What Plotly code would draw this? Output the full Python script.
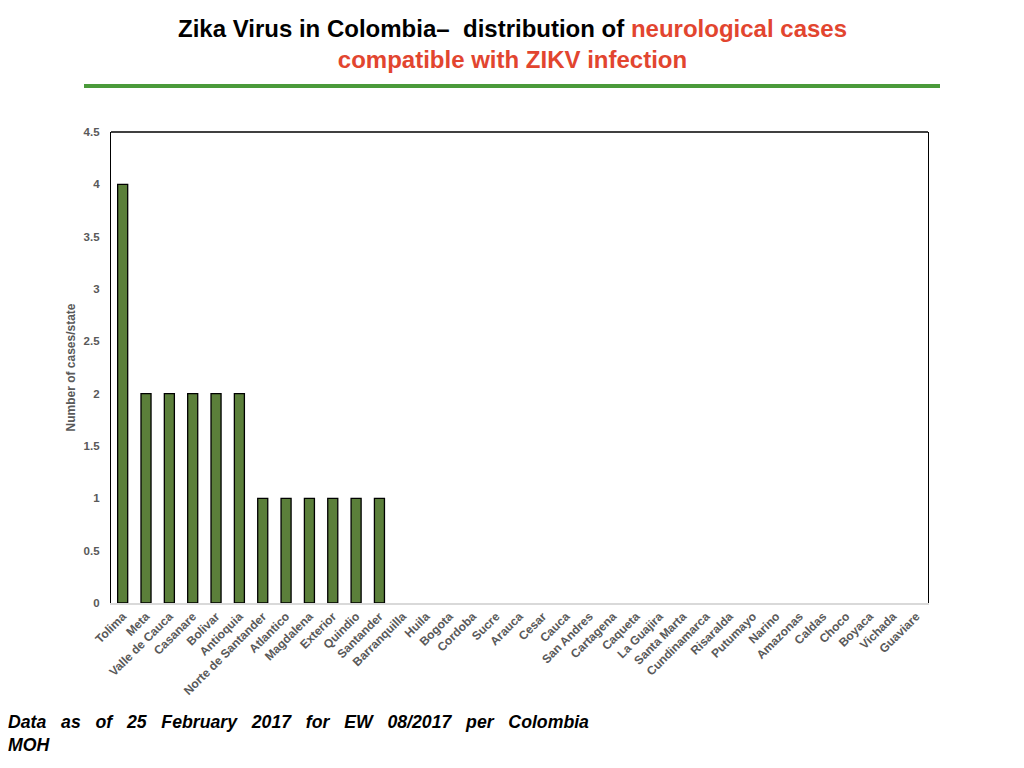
import plotly.graph_objects as go

# departamentos / estados y numero de casos neurologicos
estados = ['Tolima', 'Meta', 'Valle de Cauca', 'Casanare', 'Bolivar', 'Antioquia',
           'Norte de Santander', 'Atlantico', 'Magdalena', 'Exterior', 'Quindio',
           'Santander', 'Barranquilla', 'Huila', 'Bogota', 'Cordoba', 'Sucre',
           'Arauca', 'Cesar', 'Cauca', 'San Andres', 'Cartagena', 'Caqueta',
           'La Guajira', 'Santa Marta', 'Cundinamarca', 'Risaralda', 'Putumayo',
           'Narino', 'Amazonas', 'Caldas', 'Choco', 'Boyaca', 'Vichada', 'Guaviare']
casos = [4, 2, 2, 2, 2, 2, 1, 1, 1, 1, 1, 1, 0, 0, 0, 0, 0, 0, 0, 0, 0, 0, 0,
         0, 0, 0, 0, 0, 0, 0, 0, 0, 0, 0, 0]
yticks = [0, 0.5, 1, 1.5, 2, 2.5, 3, 3.5, 4, 4.5]

# sin borde en las barras vacias
bordes = [1.3 if c > 0 else 0 for c in casos]

fig = go.Figure()
fig.add_trace(go.Bar(x=estados, y=casos, width=0.43,
                     marker=dict(color='#5b7f3a', line=dict(color='black', width=bordes))))

gris = '#595959'
# la pagina tiene 8px de margen en el body
fig.update_layout(
    width=1024, height=768,
    paper_bgcolor='white', plot_bgcolor='white',
    margin=dict(l=103, r=104, t=124, b=173),
    showlegend=False,
    font=dict(family='Liberation Sans, Arial, sans-serif', color=gris),
)
fig.update_xaxes(showgrid=False, showline=True, linecolor='#d9d9d9', linewidth=1.5,
                 tickangle=-45, tickfont=dict(size=12, color=gris, weight='bold'),
                 ticks='', range=[-0.5, len(estados) - 0.5], automargin=False)
fig.update_yaxes(showgrid=False, zeroline=False, showline=True, linecolor='black',
                 linewidth=1.3, mirror=True, range=[0, 4.5], tickvals=yticks,
                 ticktext=[f'{v:g}' for v in yticks], ticks='',
                 ticklabelstandoff=8, automargin=False,
                 tickfont=dict(size=11.5, color=gris, weight='bold'),
                 title=dict(text='<b>Number of cases/state</b>', font=dict(size=12, color=gris),
                            standoff=5))

# linea superior del marco
fig.add_shape(type='line', xref='paper', yref='paper', x0=0, x1=1, y0=1, y1=1,
              line=dict(color='black', width=1.3))
# linea verde bajo el titulo
fig.add_shape(type='line', xref='paper', yref='paper', x0=-27/817, x1=829/817,
              y0=1 + 46/471, y1=1 + 46/471, line=dict(color='#4a9a3a', width=4))

fig.add_annotation(xref='paper', yref='paper', x=(512 - 111) / 817, y=1 + 88/471,
                   yanchor='middle', showarrow=False, align='center',
                   text="<b>Zika Virus in Colombia\u2013  distribution of <span style='color:#e2452f'>neurological cases</span><br>"
                        "<span style='color:#e2452f'>compatible with ZIKV infection</span></b>",
                   font=dict(size=24, color='black', family='Liberation Sans'))

fig.add_annotation(xref='paper', yref='paper', x=-105/817, y=-(710 - 603)/471,
                   xanchor='left', yanchor='top', showarrow=False, align='left',
                   text='<b><i>Data   as   of   25   February   2017   for   EW   08/2017   per   Colombia<br>MOH</i></b>',
                   font=dict(size=17.7, color='black', family='Liberation Sans'))

fig.write_html('out.html')
